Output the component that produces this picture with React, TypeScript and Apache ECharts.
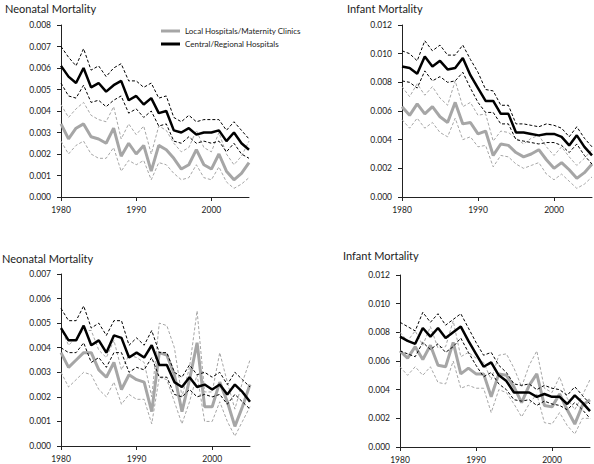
import React, { useEffect, useRef } from "react";
import * as echarts from "echarts";

const years = [1980, 1981, 1982, 1983, 1984, 1985, 1986, 1987, 1988, 1989, 1990, 1991, 1992, 1993, 1994, 1995, 1996, 1997, 1998, 1999, 2000, 2001, 2002, 2003, 2004, 2005];

const legendLocal = "Local Hospitals/Maternity Clinics";
const legendCentral = "Central/Regional Hospitals";

// Panel 1: Neonatal Mortality (top)
const p1LocalMean = [0.0034, 0.0027, 0.0032, 0.0034, 0.0028, 0.0027, 0.0025, 0.0032, 0.0019, 0.0025, 0.0020, 0.0024, 0.0012, 0.0024, 0.0022, 0.0018, 0.0013, 0.0015, 0.0022, 0.0015, 0.0013, 0.0020, 0.0012, 0.0008, 0.0011, 0.0016];
const p1LocalUpper = [0.0043, 0.0037, 0.0041, 0.0044, 0.0038, 0.0036, 0.0035, 0.0042, 0.0027, 0.0034, 0.0029, 0.0033, 0.0020, 0.0033, 0.0031, 0.0025, 0.0021, 0.0023, 0.0031, 0.0023, 0.0021, 0.0030, 0.0020, 0.0015, 0.0019, 0.0026];
const p1LocalLower = [0.0026, 0.0020, 0.0024, 0.0026, 0.0020, 0.0018, 0.0018, 0.0023, 0.0012, 0.0017, 0.0015, 0.0017, 0.0008, 0.0016, 0.0015, 0.0011, 0.0008, 0.0009, 0.0015, 0.0009, 0.0008, 0.0014, 0.0007, 0.0004, 0.0006, 0.0009];
const p1CentralMean = [0.0061, 0.0056, 0.0053, 0.0060, 0.0051, 0.0053, 0.0049, 0.0052, 0.0054, 0.0045, 0.0047, 0.0043, 0.0046, 0.0039, 0.0040, 0.0031, 0.0030, 0.0032, 0.0029, 0.0030, 0.0030, 0.0031, 0.0026, 0.0030, 0.0025, 0.0022];
const p1CentralUpper = [0.0070, 0.0065, 0.0061, 0.0069, 0.0059, 0.0061, 0.0056, 0.0060, 0.0062, 0.0054, 0.0054, 0.0051, 0.0053, 0.0046, 0.0047, 0.0037, 0.0035, 0.0038, 0.0035, 0.0036, 0.0036, 0.0036, 0.0031, 0.0035, 0.0031, 0.0027];
const p1CentralLower = [0.0053, 0.0047, 0.0046, 0.0052, 0.0044, 0.0045, 0.0042, 0.0045, 0.0047, 0.0039, 0.0041, 0.0037, 0.0040, 0.0033, 0.0034, 0.0026, 0.0025, 0.0028, 0.0025, 0.0026, 0.0025, 0.0026, 0.0021, 0.0025, 0.0020, 0.0018];

// Panel 2: Infant Mortality (top)
const p2LocalMean = [0.0063, 0.0057, 0.0065, 0.0058, 0.0063, 0.0056, 0.0052, 0.0066, 0.0051, 0.0052, 0.0044, 0.0046, 0.0029, 0.0037, 0.0036, 0.0031, 0.0028, 0.0030, 0.0033, 0.0026, 0.0020, 0.0024, 0.0019, 0.0013, 0.0017, 0.0023];
const p2LocalUpper = [0.0077, 0.0070, 0.0079, 0.0071, 0.0077, 0.0069, 0.0064, 0.0081, 0.0063, 0.0066, 0.0057, 0.0058, 0.0039, 0.0046, 0.0045, 0.0041, 0.0037, 0.0041, 0.0043, 0.0035, 0.0029, 0.0035, 0.0028, 0.0022, 0.0027, 0.0033];
const p2LocalLower = [0.0054, 0.0048, 0.0055, 0.0048, 0.0052, 0.0045, 0.0042, 0.0055, 0.0040, 0.0042, 0.0035, 0.0036, 0.0021, 0.0029, 0.0028, 0.0023, 0.0020, 0.0022, 0.0024, 0.0016, 0.0012, 0.0016, 0.0011, 0.0006, 0.0009, 0.0014];
const p2CentralMean = [0.0091, 0.0090, 0.0086, 0.0098, 0.0091, 0.0095, 0.0089, 0.0090, 0.0097, 0.0085, 0.0076, 0.0067, 0.0067, 0.0058, 0.0058, 0.0045, 0.0045, 0.0044, 0.0043, 0.0044, 0.0044, 0.0042, 0.0036, 0.0043, 0.0035, 0.0029];
const p2CentralUpper = [0.0102, 0.0100, 0.0095, 0.0109, 0.0102, 0.0106, 0.0099, 0.0099, 0.0106, 0.0096, 0.0087, 0.0075, 0.0074, 0.0064, 0.0064, 0.0051, 0.0051, 0.0050, 0.0049, 0.0051, 0.0050, 0.0048, 0.0042, 0.0049, 0.0041, 0.0035];
const p2CentralLower = [0.0081, 0.0080, 0.0076, 0.0088, 0.0081, 0.0084, 0.0080, 0.0081, 0.0087, 0.0076, 0.0066, 0.0059, 0.0059, 0.0051, 0.0051, 0.0040, 0.0039, 0.0038, 0.0037, 0.0038, 0.0038, 0.0036, 0.0031, 0.0037, 0.0029, 0.0023];

// Panel 3: Neonatal Mortality (bottom)
const p3LocalMean = [0.0038, 0.0032, 0.0035, 0.0038, 0.0038, 0.0031, 0.0028, 0.0034, 0.0023, 0.0029, 0.0027, 0.0026, 0.0014, 0.0038, 0.0037, 0.0029, 0.0014, 0.0027, 0.0042, 0.0016, 0.0016, 0.0026, 0.0018, 0.0008, 0.0016, 0.0025];
const p3LocalUpper = [0.0048, 0.0041, 0.0044, 0.0047, 0.0047, 0.0039, 0.0036, 0.0043, 0.0031, 0.0037, 0.0036, 0.0034, 0.0020, 0.0050, 0.0049, 0.0040, 0.0020, 0.0032, 0.0055, 0.0022, 0.0022, 0.0038, 0.0026, 0.0015, 0.0026, 0.0035];
const p3LocalLower = [0.0030, 0.0024, 0.0027, 0.0030, 0.0029, 0.0023, 0.0020, 0.0026, 0.0017, 0.0021, 0.0019, 0.0019, 0.0009, 0.0028, 0.0027, 0.0018, 0.0009, 0.0018, 0.0029, 0.0010, 0.0010, 0.0018, 0.0010, 0.0004, 0.0010, 0.0016];
const p3CentralMean = [0.0048, 0.0043, 0.0043, 0.0049, 0.0041, 0.0043, 0.0038, 0.0045, 0.0044, 0.0036, 0.0038, 0.0036, 0.0041, 0.0033, 0.0033, 0.0026, 0.0024, 0.0028, 0.0024, 0.0025, 0.0023, 0.0025, 0.0021, 0.0025, 0.0022, 0.0018];
const p3CentralUpper = [0.0056, 0.0051, 0.0051, 0.0057, 0.0048, 0.0050, 0.0045, 0.0051, 0.0051, 0.0041, 0.0044, 0.0041, 0.0047, 0.0038, 0.0038, 0.0030, 0.0028, 0.0033, 0.0029, 0.0030, 0.0028, 0.0030, 0.0025, 0.0030, 0.0027, 0.0024];
const p3CentralLower = [0.0040, 0.0038, 0.0038, 0.0042, 0.0034, 0.0036, 0.0032, 0.0038, 0.0038, 0.0030, 0.0032, 0.0031, 0.0036, 0.0028, 0.0028, 0.0021, 0.0020, 0.0023, 0.0020, 0.0021, 0.0020, 0.0021, 0.0017, 0.0021, 0.0018, 0.0015];

// Panel 4: Infant Mortality (bottom)
const p4LocalMean = [0.0067, 0.0062, 0.0070, 0.0061, 0.0071, 0.0057, 0.0056, 0.0073, 0.0051, 0.0055, 0.0051, 0.0051, 0.0035, 0.0051, 0.0050, 0.0042, 0.0031, 0.0043, 0.0051, 0.0029, 0.0028, 0.0037, 0.0026, 0.0016, 0.0029, 0.0033];
const p4LocalUpper = [0.0080, 0.0074, 0.0081, 0.0071, 0.0084, 0.0069, 0.0070, 0.0088, 0.0063, 0.0066, 0.0062, 0.0059, 0.0047, 0.0064, 0.0065, 0.0055, 0.0042, 0.0057, 0.0067, 0.0041, 0.0038, 0.0049, 0.0034, 0.0026, 0.0036, 0.0047];
const p4LocalLower = [0.0056, 0.0050, 0.0056, 0.0050, 0.0056, 0.0045, 0.0044, 0.0060, 0.0041, 0.0043, 0.0041, 0.0041, 0.0024, 0.0040, 0.0038, 0.0030, 0.0021, 0.0030, 0.0037, 0.0017, 0.0016, 0.0024, 0.0015, 0.0009, 0.0020, 0.0020];
const p4CentralMean = [0.0077, 0.0074, 0.0072, 0.0083, 0.0077, 0.0083, 0.0076, 0.0080, 0.0084, 0.0074, 0.0065, 0.0056, 0.0059, 0.0050, 0.0046, 0.0038, 0.0038, 0.0038, 0.0035, 0.0037, 0.0035, 0.0035, 0.0030, 0.0036, 0.0031, 0.0025];
const p4CentralUpper = [0.0087, 0.0084, 0.0081, 0.0094, 0.0087, 0.0093, 0.0085, 0.0089, 0.0093, 0.0083, 0.0073, 0.0064, 0.0066, 0.0057, 0.0052, 0.0044, 0.0043, 0.0044, 0.0040, 0.0043, 0.0041, 0.0040, 0.0036, 0.0042, 0.0036, 0.0030];
const p4CentralLower = [0.0067, 0.0065, 0.0063, 0.0073, 0.0068, 0.0072, 0.0066, 0.0070, 0.0076, 0.0066, 0.0057, 0.0049, 0.0052, 0.0044, 0.0040, 0.0033, 0.0032, 0.0033, 0.0029, 0.0032, 0.0030, 0.0029, 0.0026, 0.0031, 0.0026, 0.0020];

const titles = ["Neonatal Mortality", "Infant Mortality", "Neonatal Mortality", "Infant Mortality"];
const yMaxes = [0.008, 0.012, 0.007, 0.012];
const yIntervals = [0.001, 0.002, 0.001, 0.002];
const xLabelValues = [1980, 1990, 2000];

const FONT = "Lato, 'Open Sans', sans-serif";
const GRAY = "#a6a6a6";
const BLACK = "#000000";

const panels = [
  { local: [p1LocalMean, p1LocalUpper, p1LocalLower], central: [p1CentralMean, p1CentralUpper, p1CentralLower], grid: { left: 61, top: 25, width: 188, height: 172 }, title: { left: 5, top: 3 } },
  { local: [p2LocalMean, p2LocalUpper, p2LocalLower], central: [p2CentralMean, p2CentralUpper, p2CentralLower], grid: { left: 402, top: 25, width: 190, height: 172 }, title: { left: 347, top: 3 } },
  { local: [p3LocalMean, p3LocalUpper, p3LocalLower], central: [p3CentralMean, p3CentralUpper, p3CentralLower], grid: { left: 61, top: 274, width: 189, height: 172 }, title: { left: 2, top: 253 } },
  { local: [p4LocalMean, p4LocalUpper, p4LocalLower], central: [p4CentralMean, p4CentralUpper, p4CentralLower], grid: { left: 400, top: 275, width: 190, height: 172 }, title: { left: 343, top: 250 } },
];

function pairs(arr: number[]) {
  return years.map((y, i) => [y, arr[i]]);
}

export default function App() {
  const ref = useRef<HTMLDivElement>(null);
  useEffect(() => {
    if (!ref.current) return;
    const chart = echarts.init(ref.current, null, { renderer: "svg" });
    const series: any[] = [];
    panels.forEach((p, i) => {
      const dashed = (name: string, data: number[], color: string) => ({
        type: "line",
        name,
        xAxisIndex: i,
        yAxisIndex: i,
        data: pairs(data),
        symbol: "none",
        silent: true,
        lineStyle: { color, width: 1, type: [3, 2] },
        itemStyle: { color },
      });
      series.push(dashed(`local-upper-${i}`, p.local[1], GRAY));
      series.push(dashed(`local-lower-${i}`, p.local[2], GRAY));
      series.push({
        type: "line",
        name: legendLocal,
        xAxisIndex: i,
        yAxisIndex: i,
        data: pairs(p.local[0]),
        symbol: "none",
        lineStyle: { color: GRAY, width: 3 },
        itemStyle: { color: GRAY },
      });
      series.push(dashed(`central-upper-${i}`, p.central[1], BLACK));
      series.push(dashed(`central-lower-${i}`, p.central[2], BLACK));
      series.push({
        type: "line",
        name: legendCentral,
        xAxisIndex: i,
        yAxisIndex: i,
        data: pairs(p.central[0]),
        symbol: "none",
        lineStyle: { color: BLACK, width: 2.5 },
        itemStyle: { color: BLACK },
      });
    });

    const axisLine = { show: true, onZero: false, lineStyle: { color: "#222", width: 1 } };
    const option: any = {
      animation: false,
      backgroundColor: "#ffffff",
      textStyle: { fontFamily: FONT },
      title: panels.map((p, i) => ({
        text: titles[i],
        left: p.title.left,
        top: p.title.top,
        padding: 0,
        textStyle: { fontFamily: FONT, fontSize: 11, fontWeight: "normal", color: "#222" },
      })),
      legend: {
        data: [legendLocal, legendCentral],
        orient: "vertical",
        left: 161,
        top: 26,
        icon: "rect",
        itemWidth: 19,
        itemHeight: 3,
        itemGap: 3,
        padding: 0,
        selectedMode: false,
        textStyle: { fontFamily: FONT, fontSize: 8, color: "#222", lineHeight: 10 },
      },
      grid: panels.map((p) => ({ ...p.grid, containLabel: false, outerBoundsMode: "none" })),
      xAxis: panels.map((_, i) => ({
        type: "value",
        gridIndex: i,
        min: 1980,
        max: 2005,
        interval: 10,
        axisLine,
        axisTick: { show: true, length: 4, customValues: xLabelValues, lineStyle: { color: "#222" } },
        axisLabel: {
          customValues: xLabelValues,
          fontFamily: FONT,
          fontSize: 8.5,
          color: "#222",
          margin: 8,
          formatter: (v: number) => String(v),
        },
        splitLine: { show: false },
      })),
      yAxis: panels.map((_, i) => ({
        type: "value",
        gridIndex: i,
        min: 0,
        max: yMaxes[i],
        interval: yIntervals[i],
        axisLine,
        axisTick: { show: true, length: 4, lineStyle: { color: "#222" } },
        axisLabel: {
          fontFamily: FONT,
          fontSize: 8.5,
          color: "#222",
          margin: 10,
          formatter: (v: number) => v.toFixed(3),
        },
        splitLine: { show: false },
      })),
      series,
    };
    chart.setOption(option);
    return () => chart.dispose();
  }, []);
  return <div ref={ref} style={{ position: "absolute", left: 0, top: 0, width: 594, height: 464 }} />;
}
